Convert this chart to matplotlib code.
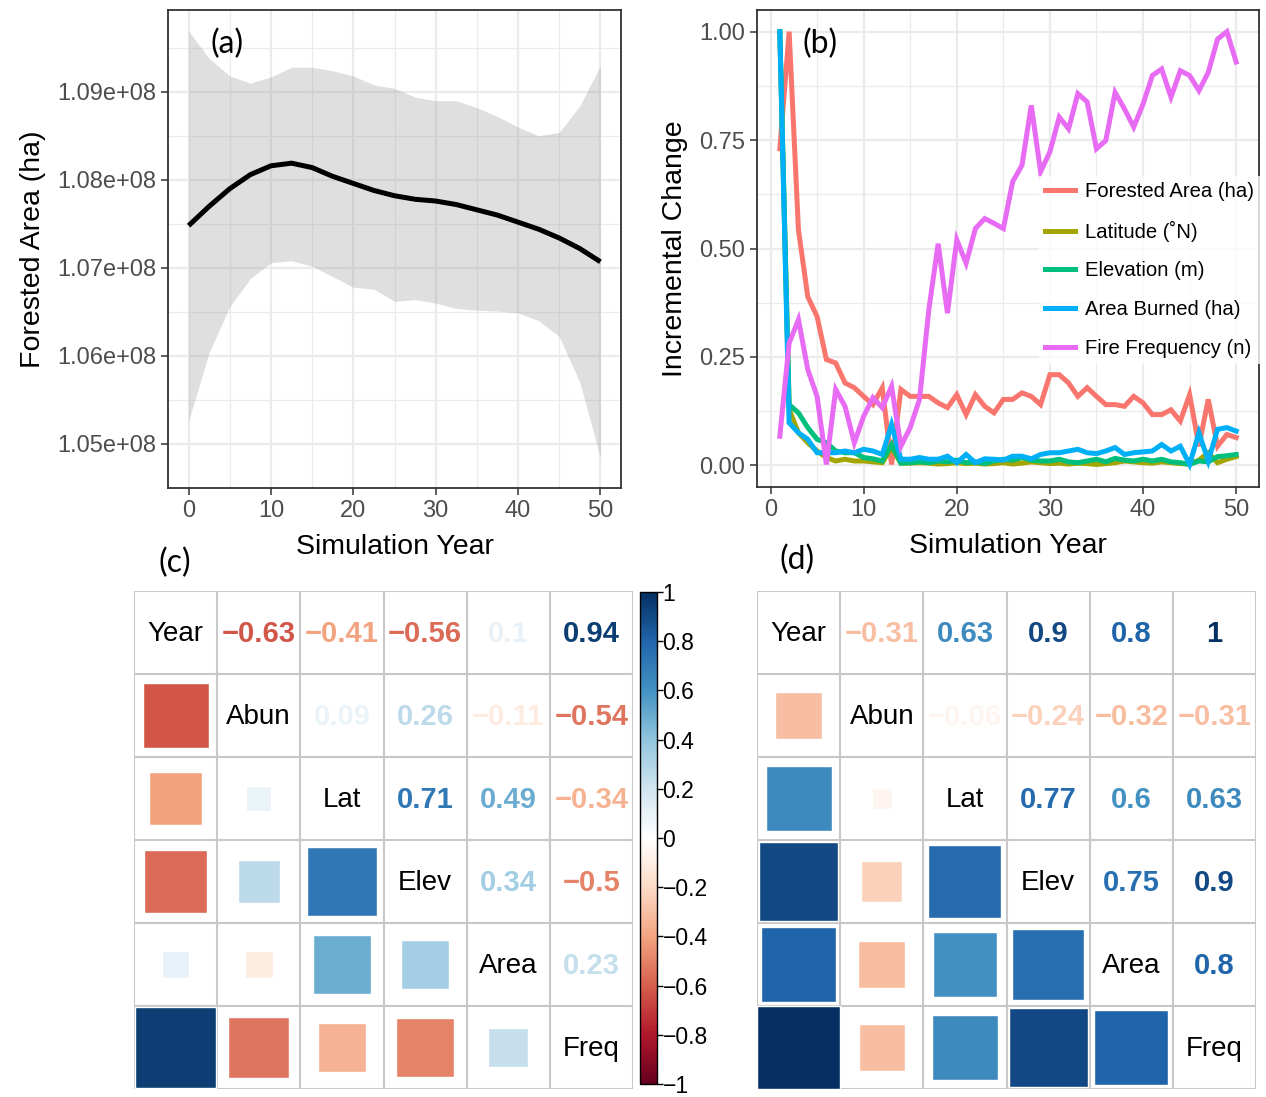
import numpy as np
import matplotlib
matplotlib.use("Agg")
import matplotlib.pyplot as plt
from matplotlib.colors import LinearSegmentedColormap, Normalize
from matplotlib.patches import Rectangle
from matplotlib.cm import ScalarMappable

plt.rcParams['font.family'] = ['Liberation Sans', 'DejaVu Sans']

# ---------------- data ----------------
# (a) smoothed forested area with confidence band
fit_years = [0, 2.5, 5, 7.5, 10, 12.5, 15, 17.5, 20, 22.5, 25, 27.5, 30,
             32.5, 35, 37.5, 40, 42.5, 45, 47.5, 50]
fit_area = [1.0748, 1.0770, 1.0790, 1.0806, 1.0816, 1.0819, 1.0814, 1.0804,
            1.0796, 1.0788, 1.0782, 1.0778, 1.0776, 1.0772, 1.0766, 1.0760,
            1.0752, 1.0744, 1.0734, 1.0722, 1.0707]
fit_upper = [1.0969, 1.0938, 1.0918, 1.0910, 1.0917, 1.0928, 1.0928, 1.0924,
             1.0918, 1.0908, 1.0904, 1.0894, 1.0890, 1.0890, 1.0882, 1.0872,
             1.0860, 1.0850, 1.0854, 1.0884, 1.0930]
fit_lower = [1.0526, 1.0604, 1.0656, 1.0688, 1.0706, 1.0708, 1.0702, 1.0690,
             1.0678, 1.0676, 1.0662, 1.0664, 1.0660, 1.0654, 1.0652, 1.0651,
             1.0649, 1.0640, 1.0622, 1.0570, 1.0484]
area_scale = 1e8
area_ticks = [1.05e8, 1.06e8, 1.07e8, 1.08e8, 1.09e8]
area_ticklabels = ["1.05e+08", "1.06e+08", "1.07e+08", "1.08e+08", "1.09e+08"]

# (b) normalised incremental change per simulation year
sim_years = list(range(1, 51))
forested = [0.730, 1.000, 0.543, 0.389, 0.343, 0.244, 0.236, 0.190, 0.179, 0.159,
            0.140, 0.179, 0.002, 0.175, 0.159, 0.159, 0.159, 0.144, 0.133, 0.163,
            0.117, 0.163, 0.136, 0.121, 0.152, 0.152, 0.167, 0.159, 0.140, 0.209,
            0.209, 0.190, 0.159, 0.179, 0.159, 0.140, 0.140, 0.136, 0.159, 0.144,
            0.117, 0.117, 0.128, 0.102, 0.163, 0.044, 0.152, 0.044, 0.071, 0.064]
latitude = [1.000, 0.129, 0.075, 0.052, 0.033, 0.018, 0.010, 0.014, 0.010, 0.010,
            0.008, 0.006, 0.041, 0.005, 0.005, 0.006, 0.005, 0.003, 0.004, 0.006,
            0.004, 0.005, 0.003, 0.004, 0.006, 0.003, 0.005, 0.008, 0.006, 0.004,
            0.005, 0.003, 0.005, 0.004, 0.002, 0.004, 0.006, 0.010, 0.008, 0.006,
            0.005, 0.008, 0.006, 0.004, 0.003, 0.012, 0.029, 0.006, 0.014, 0.020]
elevation = [1.000, 0.140, 0.121, 0.087, 0.060, 0.052, 0.033, 0.029, 0.029, 0.018,
             0.015, 0.010, 0.048, 0.005, 0.006, 0.008, 0.006, 0.010, 0.008, 0.012,
             0.006, 0.008, 0.004, 0.010, 0.014, 0.012, 0.018, 0.012, 0.010, 0.010,
             0.014, 0.008, 0.006, 0.010, 0.014, 0.008, 0.016, 0.012, 0.010, 0.014,
             0.010, 0.014, 0.008, 0.006, 0.002, 0.010, 0.008, 0.020, 0.022, 0.025]
area_burned = [1.000, 0.098, 0.075, 0.060, 0.029, 0.029, 0.029, 0.033, 0.029, 0.037,
               0.033, 0.025, 0.094, 0.014, 0.014, 0.018, 0.014, 0.014, 0.021, 0.006,
               0.025, 0.006, 0.015, 0.014, 0.012, 0.021, 0.021, 0.015, 0.025, 0.029,
               0.029, 0.033, 0.037, 0.029, 0.027, 0.033, 0.041, 0.025, 0.029, 0.031,
               0.033, 0.048, 0.033, 0.044, 0.002, 0.075, 0.010, 0.083, 0.087, 0.079]
fire_freq = [0.067, 0.282, 0.336, 0.221, 0.159, 0.002, 0.175, 0.136, 0.052, 0.113,
             0.156, 0.133, 0.182, 0.044, 0.087, 0.152, 0.359, 0.511, 0.351, 0.520,
             0.466, 0.546, 0.569, 0.558, 0.546, 0.654, 0.692, 0.830, 0.677, 0.723,
             0.803, 0.776, 0.857, 0.838, 0.730, 0.749, 0.860, 0.822, 0.780, 0.833,
             0.899, 0.914, 0.849, 0.910, 0.899, 0.864, 0.906, 0.983, 1.000, 0.930]
series_names = ["Forested Area (ha)", "Latitude (˚N)", "Elevation (m)",
                "Area Burned (ha)", "Fire Frequency (n)"]
series_colors = ["#F8766D", "#A3A500", "#00BF7D", "#00B0F6", "#E76BF3"]

# (c), (d) correlation matrices
var_names = ["Year", "Abun", "Lat", "Elev", "Area", "Freq"]
corr_c = [[1.00, -0.63, -0.41, -0.56, 0.10, 0.94],
          [-0.63, 1.00, 0.09, 0.26, -0.11, -0.54],
          [-0.41, 0.09, 1.00, 0.71, 0.49, -0.34],
          [-0.56, 0.26, 0.71, 1.00, 0.34, -0.50],
          [0.10, -0.11, 0.49, 0.34, 1.00, 0.23],
          [0.94, -0.54, -0.34, -0.50, 0.23, 1.00]]
corr_d = [[1.00, -0.31, 0.63, 0.90, 0.80, 1.00],
          [-0.31, 1.00, -0.06, -0.24, -0.32, -0.31],
          [0.63, -0.06, 1.00, 0.77, 0.60, 0.63],
          [0.90, -0.24, 0.77, 1.00, 0.75, 0.90],
          [0.80, -0.32, 0.60, 0.75, 1.00, 0.80],
          [1.00, -0.31, 0.63, 0.90, 0.80, 1.00]]
cbar_ticks = [-1, -0.8, -0.6, -0.4, -0.2, 0, 0.2, 0.4, 0.6, 0.8, 1]

# ---------------- styling helpers ----------------
W, H = 1266, 1097
fig = plt.figure(figsize=(W / 100, H / 100), dpi=100)


def px_axes(l, t, r, b):
    return fig.add_axes([l / W, 1 - b / H, (r - l) / W, (b - t) / H])


GRID = "#EBEBEB"
FRAME = "#333333"
TICKTXT = "#4D4D4D"


def bw_theme(ax):
    ax.set_facecolor("white")
    for s in ax.spines.values():
        s.set_color(FRAME)
        s.set_linewidth(1.3)
    ax.grid(True, which="major", color=GRID, lw=1.6, zorder=0)
    ax.grid(True, which="minor", color=GRID, lw=0.9, zorder=0)
    ax.set_axisbelow(True)
    ax.tick_params(which="major", length=5, width=1.1, color=FRAME,
                   labelsize=17, labelcolor=TICKTXT, pad=3.5)
    ax.tick_params(which="minor", length=0)


panel_font = dict(family=["Lato", "DejaVu Sans"], fontsize=23, color="black")

# ---------------- (a) ----------------
ax_a = px_axes(168, 10, 621, 488)
bw_theme(ax_a)
fa = np.array(fit_area) * area_scale
fu = np.array(fit_upper) * area_scale
fl = np.array(fit_lower) * area_scale
ax_a.fill_between(fit_years, fl, fu, color="#999999", alpha=0.31, lw=0, zorder=2)
ax_a.plot(fit_years, fa, color="black", lw=3.6, solid_capstyle="butt",
          solid_joinstyle="round", zorder=3)
ax_a.set_xlim(-2.5, 52.5)
ax_a.set_ylim(1.0457e8, 1.0993e8)
ax_a.set_xticks([0, 10, 20, 30, 40, 50])
ax_a.set_xticks([5, 15, 25, 35, 45], minor=True)
ax_a.set_yticks(area_ticks)
ax_a.set_yticklabels(area_ticklabels)
ax_a.set_yticks([1.045e8, 1.055e8, 1.065e8, 1.075e8, 1.085e8, 1.095e8], minor=True)
ax_a.set_xlabel("Simulation Year", fontsize=20.5, labelpad=9)
ax_a.set_ylabel("Forested Area (ha)", fontsize=20.5, labelpad=8)
fig.text(227 / W, 1 - 44 / H, "(a)", ha="center", va="center", **panel_font)

# ---------------- (b) ----------------
ax_b = px_axes(757, 10, 1259, 487)
bw_theme(ax_b)
for vals, name, col in zip([forested, latitude, elevation, area_burned, fire_freq],
                           series_names, series_colors):
    ax_b.plot(sim_years, vals, color=col, lw=3.6, label=name, zorder=3,
              solid_joinstyle="miter")
ax_b.set_xlim(-1.45, 52.45)
ax_b.set_ylim(-0.05, 1.05)
ax_b.set_xticks([0, 10, 20, 30, 40, 50])
ax_b.set_xticks([5, 15, 25, 35, 45], minor=True)
ax_b.set_yticks([0, 0.25, 0.5, 0.75, 1.0])
ax_b.set_yticklabels(["0.00", "0.25", "0.50", "0.75", "1.00"])
ax_b.set_yticks([0.125, 0.375, 0.625, 0.875], minor=True)
ax_b.set_xlabel("Simulation Year", fontsize=20.5, labelpad=9)
ax_b.set_ylabel("Incremental Change", fontsize=20.5, labelpad=8)
leg = ax_b.legend(loc="upper left", bbox_to_anchor=(0.561, 0.652), frameon=True,
                  fontsize=14.6, handlelength=1.5, handletextpad=0.5,
                  labelspacing=0.97, borderpad=0.3, borderaxespad=0,
                  fancybox=False)
leg.get_frame().set_facecolor("white")
leg.get_frame().set_edgecolor("none")
for ln in leg.get_lines():
    ln.set_linewidth(3.6)
fig.text(820 / W, 1 - 44 / H, "(b)", ha="center", va="center", **panel_font)

# ---------------- (c), (d) correlation plots ----------------
rdbu = ["#67001F", "#B2182B", "#D6604D", "#F4A582", "#FDDBC7", "#FFFFFF",
        "#D1E5F0", "#92C5DE", "#4393C3", "#2166AC", "#053061"]
cmap = LinearSegmentedColormap.from_list("corr_rdbu", rdbu, N=200)
norm = Normalize(-1, 1)


def corr_panel(ax, mat, names):
    n = len(names)
    ax.set_xlim(0, n)
    ax.set_ylim(n, 0)
    ax.axis("off")
    for i in range(n):
        for j in range(n):
            r = mat[i][j]
            if i == j:
                ax.text(j + 0.5, i + 0.52, names[i], ha="center", va="center",
                        fontsize=20, color="black")
            elif j > i:
                lab = ("%g" % r).replace("-", "\u2212")
                ax.text(j + 0.5, i + 0.52, lab, ha="center", va="center",
                        fontsize=21, fontweight="bold", color=cmap(norm(r)))
            else:
                side = np.sqrt(abs(r))
                ax.add_patch(Rectangle((j + 0.5 - side / 2, i + 0.5 - side / 2),
                                       side, side, facecolor=cmap(norm(r)),
                                       edgecolor="white", lw=1.0, zorder=3))
    for k in range(n + 1):
        ax.plot([k, k], [0, n], color="#C8C8C8", lw=1.5, zorder=2,
                solid_capstyle="projecting")
        ax.plot([0, n], [k, k], color="#C8C8C8", lw=1.5, zorder=2,
                solid_capstyle="projecting")


ax_c = px_axes(134, 591, 633, 1089)
corr_panel(ax_c, corr_c, var_names)
ax_d = px_axes(757, 591, 1256, 1089)
corr_panel(ax_d, corr_d, var_names)

cax = px_axes(640, 592, 657, 1084)
cb = fig.colorbar(ScalarMappable(norm=norm, cmap=cmap), cax=cax)
cb.set_ticks(cbar_ticks)
cb.set_ticklabels([("%g" % t).replace("-", "\u2212") for t in cbar_ticks])
cb.outline.set_linewidth(1.0)
cb.outline.set_edgecolor("black")
cax.tick_params(length=4, width=1.0, labelsize=16.5, pad=0, color="black")

fig.text(175 / W, 1 - 563 / H, "(c)", ha="center", va="center", **panel_font)
fig.text(797 / W, 1 - 560 / H, "(d)", ha="center", va="center", **panel_font)

fig.savefig("out.png", dpi=100, facecolor="white")
